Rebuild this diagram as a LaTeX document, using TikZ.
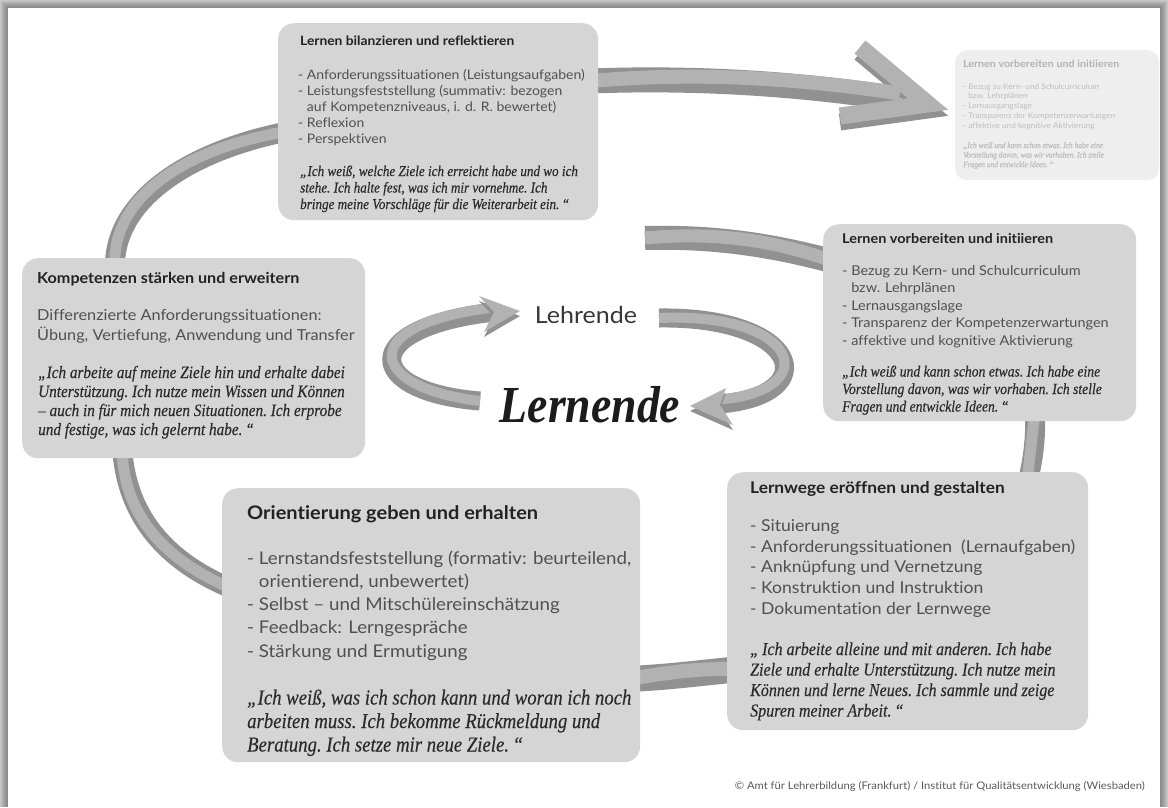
\documentclass[tikz,border=0pt]{standalone}
\usepackage{fontspec}
\setmainfont{Liberation Serif}
\newfontfamily\cardsans{Lato}[FakeStretch=1.07, Ligatures=NoCommon]
\newfontfamily\quotefont{Liberation Serif}[FakeStretch=0.88, FakeBold=0.25]
\newfontfamily\centerfont{Liberation Serif}[FakeStretch=0.88]
\usetikzlibrary{calc}

\definecolor{cardfill}{HTML}{D5D5D5}
\definecolor{fadefill}{HTML}{EEEEEE}
\definecolor{fadetitle}{HTML}{B3B3B3}
\definecolor{fadeink}{HTML}{BDBDBD}
\definecolor{ribtop}{HTML}{B2B2B2}
\definecolor{ribside}{HTML}{919191}
\definecolor{titleink}{HTML}{222222}
\definecolor{bodyink}{HTML}{505050}
\definecolor{quoteink}{HTML}{2A2A2A}
\definecolor{creditink}{HTML}{5A5A5A}
\definecolor{centerink}{HTML}{1C1C1C}

\pgfdeclarelayer{paper}
\pgfdeclarelayer{ribbons}
\pgfsetlayers{paper,ribbons,main}

\newcommand\cardlines[1]{\begin{tabular}[t]{@{}l@{}}#1\end{tabular}}
\newcommand\fsz[2]{\fontsize{#1}{#2}\selectfont}
% two-tone ribbon: darker side wall, lighter top face offset by (#3,#4)
\newcommand\ribbon[5]{%
  \draw[draw=ribside, line width=#1] #5;
  \draw[draw=ribtop, line width=#2, shift={(#3,#4)}] #5;}

\tikzset{
  card/.style={fill=cardfill, rounded corners=16pt, inner sep=0pt, anchor=north west},
  ctitle/.style={anchor=base west, inner sep=0pt, text=titleink, font=\cardsans\bfseries\fsz{#1}{#1}},
  cbody/.style 2 args={anchor=base west, inner sep=0pt, text=bodyink, font=\cardsans\fsz{#1}{#2}},
  cquote/.style 2 args={anchor=base west, inner sep=0pt, text=quoteink, font=\quotefont\itshape\frenchspacing\fsz{#1}{#2}},
}

\begin{document}
\begin{tikzpicture}[x=1pt, y=-1pt]
\useasboundingbox (0,0) rectangle (1168,807);

% ---------- cards ----------
\node[card, minimum width=320pt, minimum height=197pt] (bil) at (278,23) {};
\node[card, fill=fadefill, rounded corners=12pt, minimum width=204pt, minimum height=130pt] (fade) at (955,50) {};
\node[card, minimum width=313pt, minimum height=197pt] (vor) at (823,224) {};
\node[card, minimum width=343pt, minimum height=200pt] (kom) at (22,258) {};
\node[card, minimum width=418pt, minimum height=274pt] (ori) at (222,488) {};
\node[card, minimum width=361pt, minimum height=258pt] (weg) at (727,472) {};

% Lernen bilanzieren und reflektieren
\node[ctitle=12.9] (bil-title) at (300,45) {Lernen bilanzieren und reflektieren};
\node[cbody={13.1}{16.1}] (bil-list) at (298,79) {\cardlines{%
- Anforderungssituationen (Leistungsaufgaben)\\
- Leistungsfeststellung (summativ: bezogen\\
\phantom{- }auf Kompetenzniveaus, i. d. R. bewertet)\\
- Reflexion\\
- Perspektiven}};
\node[cquote={14.9}{16.5}] (bil-quote) at (300,176) {\cardlines{%
„Ich weiß, welche Ziele ich erreicht habe und wo ich\\
stehe. Ich halte fest, was ich mir vornehme. Ich\\
bringe meine Vorschläge für die Weiterarbeit ein.\,“}};

% faded preview card
\node[ctitle=10, text=fadetitle] (fade-title) at (963,67) {Lernen vorbereiten und initiieren};
\node[cbody={7.7}{9.8}, text=fadeink] (fade-list) at (963,89) {\cardlines{%
- Bezug zu Kern- und Schulcurriculum\\
\phantom{- }bzw. Lehrplänen\\
- Lernausgangslage\\
- Transparenz der Kompetenzerwartungen\\
- affektive und kognitive Aktivierung}};
\node[cquote={8.4}{9.6}, text=fadeink] (fade-quote) at (963,148) {\cardlines{%
„Ich weiß und kann schon etwas. Ich habe eine\\
Vorstellung davon, was wir vorhaben. Ich stelle\\
Fragen und entwickle Ideen.\,“}};

% Lernen vorbereiten und initiieren
\node[ctitle=13.5] (vor-title) at (842,243.5) {Lernen vorbereiten und initiieren};
\node[cbody={13.5}{17.4}] (vor-list) at (842,275.5) {\cardlines{%
- Bezug zu Kern- und Schulcurriculum\\
\phantom{- }bzw. Lehrplänen\\
- Lernausgangslage\\
- Transparenz der Kompetenzerwartungen\\
- affektive und kognitive Aktivierung}};
\node[cquote={15.5}{17.5}] (vor-quote) at (842,376.5) {\cardlines{%
„Ich weiß und kann schon etwas. Ich habe eine\\
Vorstellung davon, was wir vorhaben. Ich stelle\\
Fragen und entwickle Ideen.\,“}};

% Kompetenzen staerken und erweitern
\node[ctitle=15.1] (kom-title) at (37,283) {Kompetenzen stärken und erweitern};
\node[cbody={15.2}{20}] (kom-list) at (37,320.5) {\cardlines{%
Differenzierte Anforderungssituationen:\\
Übung, Vertiefung, Anwendung und Transfer}};
\node[cquote={17.3}{19}] (kom-quote) at (38,378) {\cardlines{%
„Ich arbeite auf meine Ziele hin und erhalte dabei\\
Unterstützung. Ich nutze mein Wissen und Können\\
– auch in für mich neuen Situationen. Ich erprobe\\
und festige, was ich gelernt habe.\,“}};

% Orientierung geben und erhalten
\node[ctitle=18.7] (ori-title) at (247,519.5) {Orientierung geben und erhalten};
\node[cbody={17.5}{23.3}] (ori-list) at (247,564) {\cardlines{%
- Lernstandsfeststellung (formativ: beurteilend,\\
\phantom{- }orientierend, unbewertet)\\
- Selbst – und Mitschülereinschätzung\\
- Feedback: Lerngespräche\\
- Stärkung und Ermutigung}};
\node[cquote={21.3}{23.5}] (ori-quote) at (247,704.5) {\cardlines{%
„Ich weiß, was ich schon kann und woran ich noch\\
arbeiten muss. Ich bekomme Rückmeldung und\\
Beratung. Ich setze mir neue Ziele.\,“}};

% Lernwege eroeffnen und gestalten
\node[ctitle=16.2] (weg-title) at (750,493.5) {Lernwege eröffnen und gestalten};
\node[cbody={16.4}{20.7}] (weg-list) at (750,531.5) {\cardlines{%
- Situierung\\
- Anforderungssituationen\ \ (Lernaufgaben)\\
- Anknüpfung und Vernetzung\\
- Konstruktion und Instruktion\\
- Dokumentation der Lernwege}};
\node[cquote={18.2}{20.5}] (weg-quote) at (750,655) {\cardlines{%
„\,Ich arbeite alleine und mit anderen. Ich habe\\
Ziele und erhalte Unterstützung. Ich nutze mein\\
Können und lerne Neues. Ich sammle und zeige\\
Spuren meiner Arbeit.\,“}};

% centre
\node[anchor=base, inner sep=0pt, text=titleink!90, font=\cardsans\fsz{23.4}{24}] (lehr) at (586,323) {Lehrende};
\node[anchor=base, inner sep=0pt, text=centerink, font=\centerfont\bfseries\itshape\fsz{52}{52}] (lern) at (590,422) {Lernende};

% credit line
\node[anchor=base east, inner sep=0pt, text=creditink, font=\cardsans\fsz{10.5}{12}] (credit) at (1145,789)
  {© Amt für Lehrerbildung (Frankfurt) / Institut für Qualitätsentwicklung (Wiesbaden)};

% ---------- ribbon end points ----------
\coordinate (a0) at ([shift={(93,12)}]kom.north west);
\coordinate (a1) at ([shift={(12,108)}]bil.north west);
\coordinate (b0) at ([shift={(100,-13)}]kom.south west);
\coordinate (b1) at ([shift={(13,102)}]ori.north west);
\coordinate (c0) at ([shift={(-11,191)}]ori.north east);
\coordinate (c1) at ([shift={(13,197)}]weg.north west);
\coordinate (d0) at ([shift={(212,-11)}]vor.south west);
\coordinate (d1) at ([shift={(300,13)}]weg.north west);
\coordinate (loopstart) at (645,238);
\coordinate (e1) at ([shift={(12,38)}]vor.north west);
\coordinate (f0) at ([shift={(-8,58)}]bil.north east);
\coordinate (gfree) at (480,401);
\coordinate (hfree) at (659,318);

\begin{pgfonlayer}{ribbons}
  % outer cycle
  \ribbon{20pt}{11pt}{-3}{-3}{(a0) .. controls (112,200) and (190,150) .. (a1)}
  \ribbon{20pt}{11pt}{-3}{-2}{(b0) .. controls (125,510) and (160,560) .. (b1)}
  \ribbon{26pt}{14pt}{0}{-5}{(c0) .. controls (670,677) and (700,673) .. (c1)}
  \ribbon{20pt}{11pt}{-4}{0}{(d0) .. controls (1036,440) and (1033,460) .. (d1)}
  \ribbon{24pt}{13pt}{0}{-5}{(loopstart) .. controls (720,236) and (780,247) .. (e1)}
  % top arrow towards the preview card
  \draw[draw=ribside, line width=17pt, line join=miter, shift={(0,6)}] (860,47) -- (928,104) -- (840,116);
  \ribbon{25pt}{14pt}{0}{-5.5}{(f0) .. controls (700,77) and (800,84) .. (900,99)}
  \draw[draw=ribtop, line width=17pt, line join=miter] (860,47) -- (928,104) -- (840,116);
  % inner cycle, left arrow (up to Lehrende)
  \ribbon{19pt}{10pt}{0}{-4.5}{(gfree) .. controls (365,392) and (355,328) .. (494,312)}
  \fill[ribside] (520,316) -- (479,301) -- (494,317) -- (484,337) -- cycle;
  \fill[ribtop] (520,311) -- (479,296) -- (494,312) -- (484,332) -- cycle;
  % inner cycle, right arrow (down to Lernende)
  \ribbon{19pt}{10pt}{0}{-4.5}{(hfree) .. controls (800,316) and (825,395) .. (720,404)}
  \fill[ribside] (690,411) -- (726,393) -- (720,410) -- (733,430) -- cycle;
  \fill[ribtop] (690,406) -- (726,388) -- (720,405) -- (733,425) -- cycle;
\end{pgfonlayer}

% ---------- paper with drop shadow ----------
\begin{pgfonlayer}{paper}
  \foreach \i/\g in {0/22,1/26,2/30,3/34,4/37,5/40,6/43,7/45}
    \fill[black!\g] (\i,\i) rectangle (1168-\i,807);
  \fill[white] (8,8) rectangle (1160,807);
\end{pgfonlayer}
\end{tikzpicture}
\end{document}
